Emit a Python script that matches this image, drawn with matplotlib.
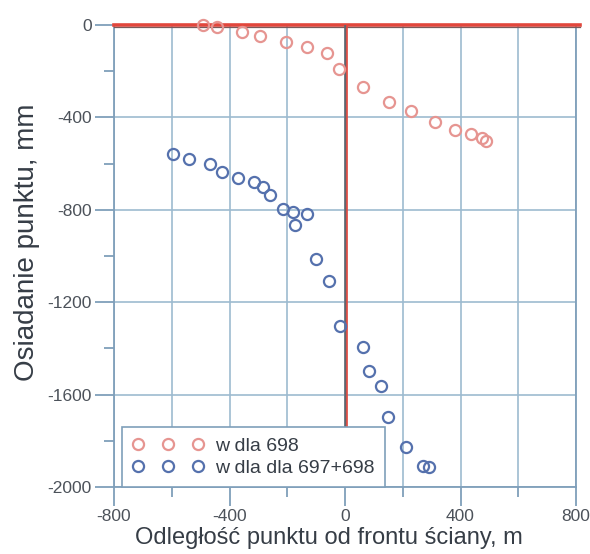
import matplotlib
matplotlib.use("Agg")
import matplotlib.pyplot as plt
import matplotlib.transforms as mtransforms
from matplotlib.ticker import MultipleLocator

plt.rcParams['font.family'] = ['Liberation Sans', 'DejaVu Sans']
plt.rcParams['axes.unicode_minus'] = False

# Series "w dla 698"
x_698 = [-493, -444, -356, -294, -205, -133, -63, -20, 63, 153, 227, 312, 381, 435, 473, 490]
y_698 = [0, -10, -30, -48, -72, -97, -123, -192, -270, -335, -373, -419, -455, -473, -491, -500]

# Series "w dla dla 697+698"
x_697_698 = [-594, -539, -467, -425, -369, -314, -285, -260, -214, -179, -133, -173,
             -100, -54, -17, 63, 84, 124, 150, 210, 269, 292]
y_697_698 = [-557, -578, -600, -636, -662, -680, -701, -737, -795, -810, -820, -867,
             -1012, -1109, -1301, -1395, -1496, -1561, -1696, -1829, -1908, -1915]

label_698 = "w dla 698"
label_697_698 = "w dla dla 697+698"
xlabel = "Odległość punktu od frontu ściany, m"
ylabel = "Osiadanie punktu, mm"

W, H = 590, 554
fig = plt.figure(figsize=(W / 100, H / 100), dpi=100)
ax = fig.add_axes([114 / W, 1 - 487 / H, (576 - 114) / W, (487 - 25) / H])

ax.set_xlim(-800, 800)
ax.set_ylim(-2000, 0)

grid_c = '#9dbbd0'
spine_c = '#7f9fba'
ax.xaxis.set_major_locator(MultipleLocator(400))
ax.xaxis.set_minor_locator(MultipleLocator(200))
ax.yaxis.set_major_locator(MultipleLocator(400))
ax.yaxis.set_minor_locator(MultipleLocator(200))
ax.grid(True, which='major', axis='both', color=grid_c, lw=1.2)
ax.grid(True, which='minor', axis='x', color=grid_c, lw=1.2)
ax.set_axisbelow(True)

for s in ax.spines.values():
    s.set_color(spine_c)
    s.set_linewidth(1.3)

tick_c = '#4c525a'
ax.tick_params(which='major', length=14, width=1.3, color=spine_c, labelsize=12.5,
               labelcolor=tick_c, pad=2)
ax.tick_params(which='minor', length=7, width=1.3, color=spine_c)

# reference lines (zero settlement and wall front)
ht = ax.get_yaxis_transform()   # x: axes, y: data
vt = ax.get_xaxis_transform()   # x: data, y: axes
ht_down = mtransforms.offset_copy(ht, fig=fig, x=0, y=-1.5, units='dots')
vt_right = mtransforms.offset_copy(vt, fig=fig, x=1.5, y=0, units='dots')
ax.plot([0, 1.008], [0, 0], transform=ht, color='#e2463c', lw=2.6, zorder=3, clip_on=False)
ax.plot([0, 1.008], [0, 0], transform=ht_down, color='#7a5a5a', lw=0.9, zorder=3, clip_on=False)
ax.plot([0, 0], [0, 1], transform=vt, color='#60646c', lw=1.8, zorder=3)
ax.plot([0, 0], [0, 1], transform=vt_right, color='#e2463c', lw=1.2, zorder=3)

ax.plot(x_698, y_698, linestyle='none', marker='o', ms=8, mfc='none',
        mec='#e69591', mew=1.6, label=label_698, zorder=4, clip_on=False)
ax.plot(x_697_698, y_697_698, linestyle='none', marker='o', ms=8, mfc='none',
        mec='#5571ad', mew=1.6, label=label_697_698, zorder=4)

lab_c = '#363d46'
ax.set_xlabel(xlabel, fontsize=17, color=lab_c)
ax.xaxis.set_label_coords(0.465, -0.087)
ax.set_ylabel(ylabel, fontsize=20, color=lab_c)
ax.yaxis.set_label_coords(-0.16, 0.53)

leg = ax.legend(handles=ax.get_lines()[4:], loc='lower left', bbox_to_anchor=(8 / 462, 0),
                borderaxespad=0, numpoints=3, handlelength=3.7, handletextpad=0.6,
                borderpad=0.5, labelspacing=0.25, fancybox=False, framealpha=1,
                edgecolor=spine_c, prop={'size': 14})
leg.get_frame().set_linewidth(1.2)
for t in leg.get_texts():
    t.set_color(lab_c)
leg.set_zorder(5)

fig.savefig('out.png', dpi=100)
